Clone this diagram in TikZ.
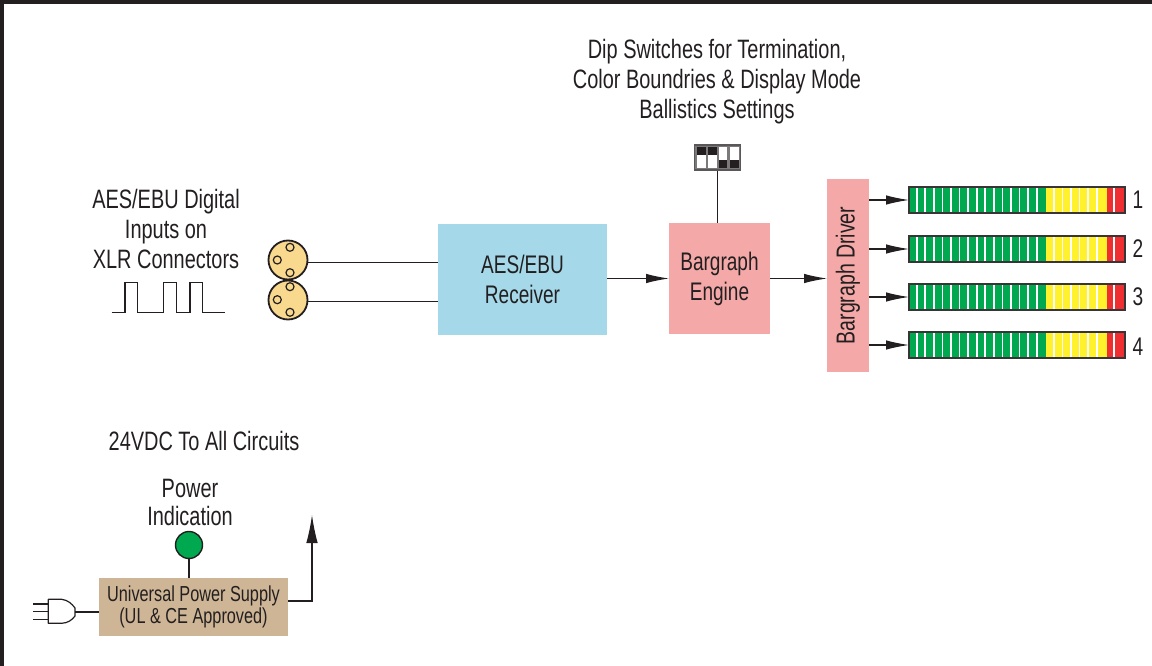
\documentclass[tikz,border=0pt]{standalone}
\usepackage{fontspec}
\setmainfont[FakeStretch=0.75]{Liberation Sans}
\usetikzlibrary{arrows.meta,calc}
\definecolor{ink}{HTML}{231F20}
\definecolor{rxblue}{HTML}{A5D9EA}
\definecolor{engpink}{HTML}{F4A9A8}
\definecolor{psutan}{HTML}{CDB596}
\definecolor{xlrgold}{HTML}{F8D98E}
\definecolor{ledgreen}{HTML}{00A94F}
\definecolor{metyellow}{HTML}{FFF12B}
\definecolor{metred}{HTML}{EE2E30}
\tikzset{
  x=1pt,y=-1pt,
  lbl/.style={text=ink,align=center,inner sep=0pt,font=\fontsize{26.6}{30}\selectfont},
  block/.style={inner sep=0pt,outer sep=0pt,text=ink,align=center,font=\fontsize{25.4}{30}\selectfont},
  wire/.style={draw=ink,line width=1.1pt},
  flow/.style={wire,-{Latex[length=23pt,width=9.5pt]}},
  pin/.style={circle,draw=ink,line width=1.2pt,inner sep=0pt,minimum size=8pt,fill=xlrgold},
  xlr/.style={circle,draw=ink,line width=1.8pt,fill=xlrgold,inner sep=0pt,minimum size=39pt},
  meterframe/.style={draw=ink!90!white,line width=2pt},
  numlbl/.style={text=ink,inner sep=0pt,font=\fontsize{25.5}{26}\selectfont},
}
\newcommand{\meterbar}[2]{%
  % #1 = top y, #2 = bottom y
  \fill[ledgreen] (909,#1) rectangle (1046,#2);
  \fill[metyellow] (1046,#1) rectangle (1107,#2);
  \fill[metred] (1107,#1) rectangle (1125,#2);
  \foreach \k in {0,...,14,16,17,18,19,20,21,23}{
    \fill[white] ({915.9+8.57*\k},#1) rectangle ({917.6+8.57*\k},#2);
  }
  \draw[meterframe] (909,#1) rectangle (1125,#2);
}
\begin{document}
\begin{tikzpicture}
\useasboundingbox (0,0) rectangle (1152,666);
\fill[ink] (0,0) rectangle (1152,4);
\fill[ink] (0,0) rectangle (4,666);

% Blocks
\node[block,fill=rxblue,minimum width=169pt,minimum height=111pt] (aes) at (522.5,279.5) {AES/EBU\\Receiver};
\node[block,fill=engpink,minimum width=101pt,minimum height=111pt] (engine) at (719.5,278.5) {\raisebox{-2pt}{Bargraph}\\\raisebox{-2pt}{Engine}};
\node[block,fill=engpink,minimum width=42pt,minimum height=193pt,font=\fontsize{26}{30}\selectfont] (driver) at (848,275.5) {\rotatebox{90}{Bargraph Driver}};
\node[block,fill=psutan,minimum width=189pt,minimum height=58pt,font=\fontsize{21.7}{22}\selectfont] (psu) at (193.5,607) {Universal Power Supply\\(UL \& CE Approved)};

% Labels
\node[lbl] (diplabel) at (717,82) {Dip Switches for Termination,\\Color Boundries \& Display Mode\\Ballistics Settings};
\node[lbl] (inlabel) at (166,229) {AES/EBU Digital\\Inputs on\\XLR Connectors};
\node[lbl] (vdclabel) at (204,441) {24VDC To All Circuits};
\node[lbl,font=\fontsize{26.6}{28}\selectfont] (pwrlabel) at (190,502) {Power\\Indication};

% XLR connectors
\node[xlr] (xlrB) at (288,300) {};
\node[xlr] (xlrA) at (288,260) {};
\foreach \n/\x/\y in {a/290/247.3,b/277.3/260,c/290/272.7,d/290/286.7,e/277.3/299.7,f/290/312.3}{
  \node[pin] (pin\n) at (\x,\y) {};
}
\draw[wire] ([yshift=-2.5pt]xlrA.east) -- ([yshift=-2.5pt]xlrA.east -| aes.west);
\draw[wire] ([yshift=-1.5pt]xlrB.east) -- ([yshift=-1.5pt]xlrB.east -| aes.west);

% Square wave
\draw[draw=ink,line width=1.2pt] (111.7,312.7) -- (125,312.7) -- (125,282.7) -- (137.7,282.7) -- (137.7,312.7) -- (163.3,312.7) -- (163.3,282.7) -- (176.7,282.7) -- (176.7,312.7) -- (190,312.7) -- (190,282.7) -- (202.7,282.7) -- (202.7,312.7) -- (225,312.7);

% Flow
\draw[flow] (engine.west -| aes.east) -- (engine.west);
\draw[flow] (engine.east) -- (engine.east -| driver.west);

% DIP switch
\node[draw=ink!75!white,line width=1.5pt,fill=ink!60!white,inner sep=0pt,minimum width=46pt,minimum height=25pt] (dip) at (717.5,157.5) {};
\foreach \xx/\yy/\hh in {697/147.5/8,708/147.5/8,718.7/160/8,730/160/8}{
  \fill[white] (\xx,147) rectangle +(8.6,20.8);
  \fill[ink] (\xx,\yy) rectangle +(8.6,\hh);
}
\draw[wire,line width=1.6pt] (dip.south) -- (dip.south |- engine.north);

% Meters
\meterbar{187}{213}
\meterbar{236}{262}
\meterbar{284}{310}
\meterbar{332}{358}
\coordinate (m1) at (909,200);
\coordinate (m2) at (909,249);
\coordinate (m3) at (909,297);
\coordinate (m4) at (909,345);
\foreach \i in {1,2,3,4}{
  \draw[flow] (m\i -| driver.east) -- (m\i);
}
\node[numlbl] (n1) at (1138,200) {1};
\node[numlbl] (n2) at (1138,249) {2};
\node[numlbl] (n3) at (1138,297) {3};
\node[numlbl] (n4) at (1138,347) {4};

% Power section
\node[circle,draw=ink,line width=1.4pt,fill=ledgreen,inner sep=0pt,minimum size=27pt] (led) at (189,545) {};
\draw[wire] (led.south) -- (led.south |- psu.north);
\coordinate (vout) at (312,515);
\draw[wire,-{Latex[length=28pt,width=11.5pt]}] ([yshift=6pt]psu.east) -| (vout);
% Plug
\coordinate (plugtip) at (75,612);
\draw[draw=ink,line width=1.2pt,line join=round] (48.3,599.3) -- (61.7,599.3) .. controls (68,600) and (72,604) .. (75,608) -- (75,616) .. controls (72,620) and (68,623) .. (61.7,623.3) -- (48.3,623.3) -- cycle;
\draw[wire] (plugtip) -- (plugtip -| psu.west);
\draw[wire] (33,604) -- (48.3,604);
\draw[wire] (33,611.7) -- (48.3,611.7);
\draw[wire] (33,619.3) -- (48.3,619.3);
\end{tikzpicture}
\end{document}
